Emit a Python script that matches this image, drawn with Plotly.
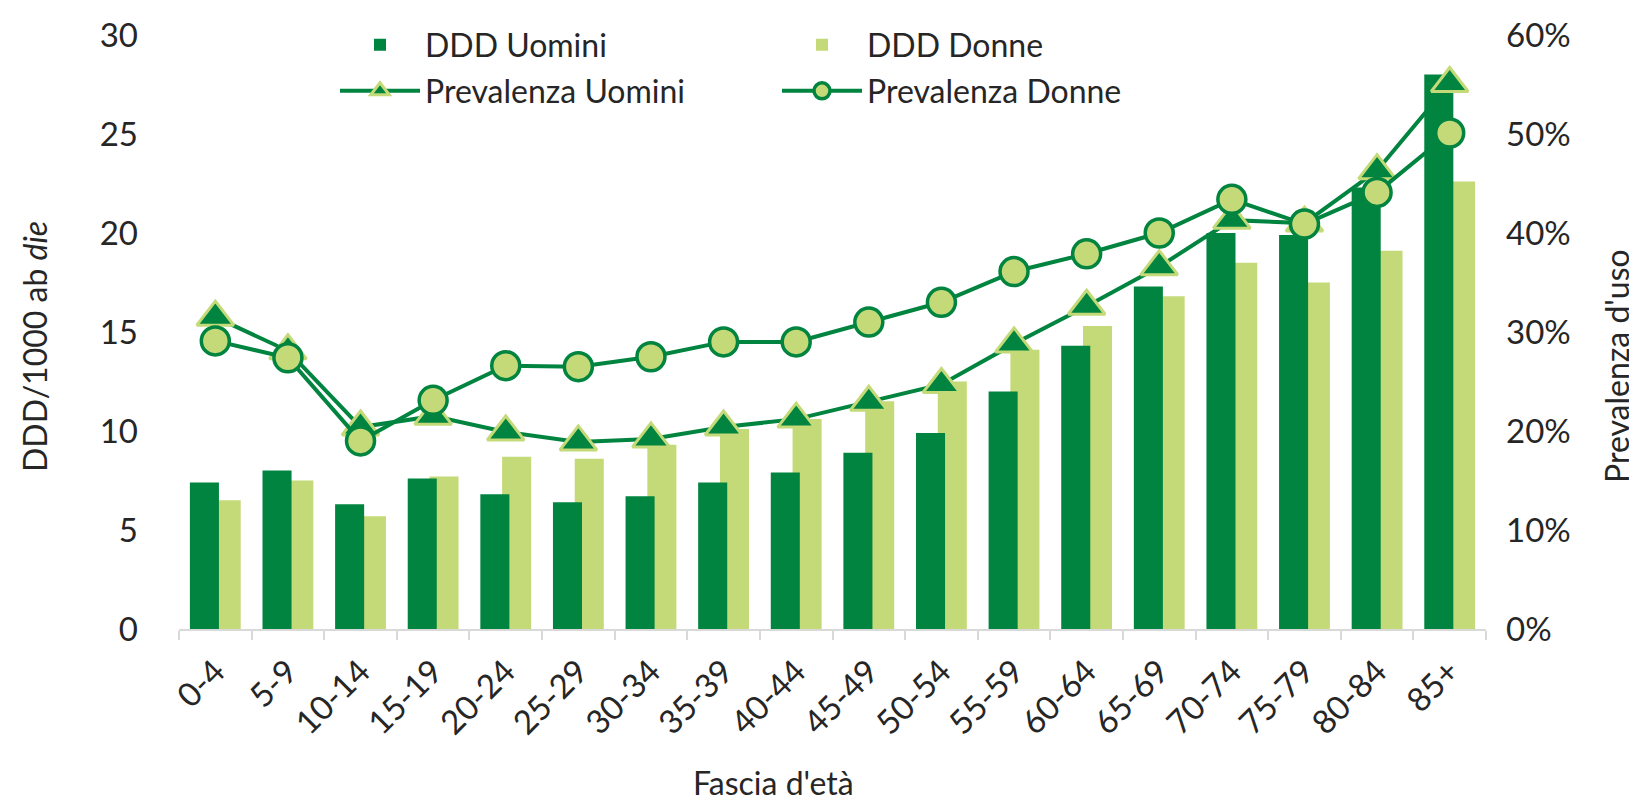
import plotly.graph_objects as go

categories = ["0-4", "5-9", "10-14", "15-19", "20-24", "25-29", "30-34", "35-39", "40-44",
              "45-49", "50-54", "55-59", "60-64", "65-69", "70-74", "75-79", "80-84", "85+"]
ddd_uomini = [7.4, 8.0, 6.3, 7.6, 6.8, 6.4, 6.7, 7.4, 7.9, 8.9, 9.9, 12.0, 14.3, 17.3, 20.0, 19.9, 22.3, 28.0]
ddd_donne = [6.5, 7.5, 5.7, 7.7, 8.7, 8.6, 9.3, 10.1, 10.6, 11.5, 12.5, 14.1, 15.3, 16.8, 18.5, 17.5, 19.1, 22.6]
prev_uomini = [0.315, 0.281, 0.204, 0.215, 0.199, 0.189, 0.192, 0.204, 0.212, 0.229, 0.247, 0.288,
               0.326, 0.366, 0.413, 0.410, 0.463, 0.551]
prev_donne = [0.291, 0.274, 0.190, 0.231, 0.266, 0.265, 0.275, 0.290, 0.290, 0.310, 0.330, 0.361,
              0.379, 0.400, 0.434, 0.409, 0.441, 0.501]
y_left_ticks = [0, 5, 10, 15, 20, 25, 30]
y_right_ticks = [0, 0.1, 0.2, 0.3, 0.4, 0.5, 0.6]

DARK = "#00843F"
LIGHT = "#C4DA78"
TXT = "#262626"
FONT = "Lato"

W, H = 1637, 802
L, R, T, B = 171, 159, 27, 181
PW, PH = W - L - R, H - T - B

BAR_W = 0.40      # width of each bar, in category units
GROUP = 0.70      # total width of the pair


def px(xf):
    return (xf - L) / PW


def py(yf):
    return (H - B - yf) / PH


fig = go.Figure()
# Donne drawn first so the Uomini bar slightly overlaps it (as in the original)
fig.add_trace(go.Bar(x=categories, y=ddd_donne, name="DDD Donne", marker=dict(color=LIGHT, line_width=0),
                     width=BAR_W, offset=GROUP / 2 - BAR_W, legend="legend", legendrank=2))
fig.add_trace(go.Bar(x=categories, y=ddd_uomini, name="DDD Uomini", marker=dict(color=DARK, line_width=0),
                     width=BAR_W, offset=-GROUP / 2, legend="legend", legendrank=1))
fig.add_trace(go.Scatter(x=categories, y=prev_uomini, name="Prevalenza Uomini", yaxis="y2", mode="lines+markers",
                         line=dict(color=DARK, width=4),
                         marker=dict(symbol="triangle-up", size=32, color=DARK, line=dict(color=LIGHT, width=3)),
                         legend="legend2", legendrank=3))
fig.add_trace(go.Scatter(x=categories, y=prev_donne, name="Prevalenza Donne", yaxis="y2", mode="lines+markers",
                         line=dict(color=DARK, width=4),
                         marker=dict(symbol="circle", size=28, color=LIGHT, line=dict(color=DARK, width=3.5)),
                         legend="legend2", legendrank=4))

LEG_X = 327
fig.update_layout(
    width=W, height=H,
    margin=dict(l=L, r=R, t=T, b=B, autoexpand=False),
    paper_bgcolor="white", plot_bgcolor="white",
    font=dict(family=FONT, color=TXT, size=30),
    barmode="overlay",
    xaxis=dict(type="category", range=[-0.5, len(categories) - 0.5], tickson="boundaries", ticks="outside",
               ticklen=9, tickwidth=2, tickcolor="#D9D9D9", showline=True, linecolor="#D9D9D9", linewidth=2,
               tickangle=-45, tickfont=dict(size=33), showgrid=False, ticklabelstandoff=8),
    yaxis=dict(range=[0, 30], tickvals=y_left_ticks, showgrid=False, zeroline=False, showline=False,
               tickfont=dict(size=33), ticklabelstandoff=40),
    yaxis2=dict(range=[0, 0.6], tickvals=y_right_ticks, tickformat=".0%", overlaying="y", side="right",
                showgrid=False, zeroline=False, showline=False, tickfont=dict(size=33), ticklabelstandoff=19),
    legend=dict(orientation="h", xref="container", x=LEG_X / W, xanchor="left", yref="container",
                y=1 - 37 / H, yanchor="middle", entrywidth=347, itemwidth=80, font=dict(size=32),
                bgcolor="rgba(0,0,0,0)", traceorder="normal"),
    legend2=dict(orientation="h", xref="container", x=LEG_X / W, xanchor="left", yref="container",
                 y=1 - 83 / H, yanchor="middle", entrywidth=347, itemwidth=80, font=dict(size=32),
                 bgcolor="rgba(0,0,0,0)", traceorder="normal"),
    annotations=[
        dict(text="DDD/1000 ab <i>die</i>", xref="paper", yref="paper", x=px(26), y=py(339), textangle=-90,
             showarrow=False, font=dict(size=32), xanchor="center", yanchor="middle"),
        dict(text="Prevalenza d'uso", xref="paper", yref="paper", x=px(1608), y=py(358), textangle=-90,
             showarrow=False, font=dict(size=32), xanchor="center", yanchor="middle"),
        dict(text="Fascia d'età", xref="paper", yref="paper", x=px(765), y=py(774),
             showarrow=False, font=dict(size=32), xanchor="center", yanchor="middle"),
    ],
)

fig.write_html("out.html")
